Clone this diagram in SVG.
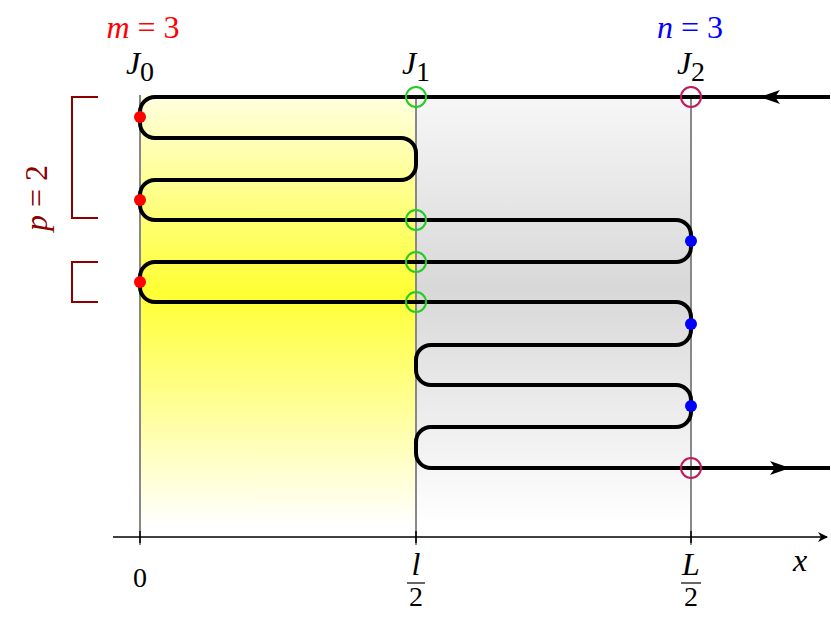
<svg xmlns="http://www.w3.org/2000/svg" width="831" height="619" viewBox="0 0 831 619">
<defs>
<linearGradient id="gy" x1="0" y1="95" x2="0" y2="525" gradientUnits="userSpaceOnUse">
<stop offset="0" stop-color="#ffffe0"/><stop offset="0.46" stop-color="#ffff33"/><stop offset="1" stop-color="#ffffff"/></linearGradient>
<linearGradient id="gg" x1="0" y1="95" x2="0" y2="525" gradientUnits="userSpaceOnUse">
<stop offset="0" stop-color="#f7f7f7"/><stop offset="0.45" stop-color="#d8d8d8"/><stop offset="1" stop-color="#ffffff"/></linearGradient>
<marker id="ar" viewBox="0 0 10 10" refX="9" refY="5" markerWidth="10" markerHeight="10" markerUnits="userSpaceOnUse" orient="auto"><path d="M0,0 L10,5 L0,10 L3,5 z" fill="#000"/></marker>
<marker id="big" viewBox="0 0 20 14" refX="10" refY="7" markerWidth="20" markerHeight="14" markerUnits="userSpaceOnUse" orient="auto"><path d="M0,0 L20,7 L0,14 L5,7 z" fill="#000"/></marker>
</defs>
<style>
.m{font-family:"Liberation Serif",serif;font-style:italic;font-size:32px}
.r{font-family:"Liberation Serif",serif;font-size:28px}
.v{stroke:#888;stroke-width:2}
.p{fill:none;stroke:#000;stroke-width:4;stroke-linejoin:round}
.gc{fill:none;stroke:#22cc22;stroke-width:2}
.cc{fill:none;stroke:#c2185b;stroke-width:2}
</style>
<rect x="140" y="95" width="276" height="430" fill="url(#gy)"/>
<rect x="416" y="95" width="275" height="430" fill="url(#gg)"/>
<g id="guides">
<line class="v" x1="140" y1="95" x2="140" y2="545"/>
<line class="v" x1="416" y1="95" x2="416" y2="545"/>
<line class="v" x1="691" y1="95" x2="691" y2="545"/>
</g>
<g id="axis">
<line x1="113" y1="537" x2="827" y2="537" stroke="#000" stroke-width="1.5" marker-end="url(#ar)"/>
<g stroke="#000" stroke-width="1.5"><line x1="140" y1="531" x2="140" y2="543"/><line x1="416" y1="531" x2="416" y2="543"/><line x1="691" y1="531" x2="691" y2="543"/></g>
<text class="r" x="140" y="587" text-anchor="middle">0</text>
<text class="m" x="416" y="575" text-anchor="middle" font-size="18">l</text>
<line x1="407" y1="583" x2="425" y2="583" stroke="#000" stroke-width="1.2"/>
<text class="r" x="416" y="606" text-anchor="middle" font-size="18">2</text>
<text class="m" x="691" y="575" text-anchor="middle" font-size="18">L</text>
<line x1="681" y1="583" x2="701" y2="583" stroke="#000" stroke-width="1.2"/>
<text class="r" x="691" y="606" text-anchor="middle" font-size="18">2</text>
<text class="m" x="800" y="571" text-anchor="middle">x</text>
</g>
<g id="connectors">
<path class="p" d="M830,97 H155 A15,15 0 0 0 140,112 V123 A15,15 0 0 0 155,138 H401 A15,15 0 0 1 416,153 V165 A15,15 0 0 1 401,180 H155 A15,15 0 0 0 140,195 V205 A15,15 0 0 0 155,220 H676 A15,15 0 0 1 691,235 V247 A15,15 0 0 1 676,262 H155 A15,15 0 0 0 140,277 V287 A15,15 0 0 0 155,302 H676 A15,15 0 0 1 691,317 V330 A15,15 0 0 1 676,345 H431 A15,15 0 0 0 416,360 V370 A15,15 0 0 0 431,385 H676 A15,15 0 0 1 691,400 V412 A15,15 0 0 1 676,427 H431 A15,15 0 0 0 416,442 V453 A15,15 0 0 0 431,468 H830"/>
<line x1="790" y1="97" x2="770" y2="97" stroke="none" marker-end="url(#big)"/>
<line x1="770" y1="468" x2="780" y2="468" stroke="none" marker-end="url(#big)"/>
</g>
<g id="junctions">
<circle cx="140" cy="117" r="6" fill="#ff0000"/><circle cx="140" cy="200" r="6" fill="#ff0000"/><circle cx="140" cy="282" r="6" fill="#ff0000"/>
<circle cx="691" cy="241" r="6" fill="#0000ff"/><circle cx="691" cy="324" r="6" fill="#0000ff"/><circle cx="691" cy="406" r="6" fill="#0000ff"/>
<circle class="gc" cx="416" cy="97" r="10"/><circle class="gc" cx="416" cy="220" r="10"/><circle class="gc" cx="416" cy="262" r="10"/><circle class="gc" cx="416" cy="302" r="10"/>
<circle class="cc" cx="691" cy="97" r="10"/><circle class="cc" cx="691" cy="468" r="10"/>
</g>
<g id="labels">
<text class="m" x="140" y="74" text-anchor="middle">J<tspan class="r" font-style="normal" font-size="21" dy="7">0</tspan></text>
<text class="m" x="416" y="74" text-anchor="middle">J<tspan class="r" font-style="normal" font-size="21" dy="7">1</tspan></text>
<text class="m" x="691" y="74" text-anchor="middle">J<tspan class="r" font-style="normal" font-size="21" dy="7">2</tspan></text>
<text class="m" x="143" y="38" text-anchor="middle" fill="#ff0000">m <tspan font-style="normal">= 3</tspan></text>
<text class="m" x="690" y="38" text-anchor="middle" fill="#0000ff">n <tspan font-style="normal">= 3</tspan></text>
<text class="m" transform="translate(47 198) rotate(-90)" text-anchor="middle" fill="#8b0000">p <tspan font-style="normal">= 2</tspan></text>
</g>
<g id="brackets" fill="none" stroke="#8b0000" stroke-width="2">
<path d="M98,97 H72 V218 H98"/>
<path d="M98,262 H72 V302 H98"/>
</g>
</svg>
